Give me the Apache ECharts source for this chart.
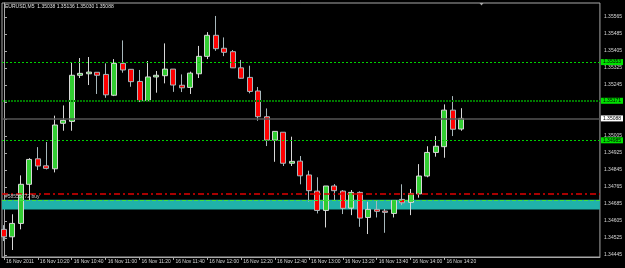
<!DOCTYPE html>
<html>
<head>
<meta charset="utf-8">
<script src="https://cdn.jsdelivr.net/npm/echarts@6/dist/echarts.min.js"></script>
<style>
  html, body { margin: 0; padding: 0; background: #000; }
  #chart { width: 625px; height: 268px; }
</style>
</head>
<body>
<div id="chart"></div>
<script>
// EURUSD M5, 16 Nov 2011, 10:00 - 14:30
const opens = [1.34566, 1.34531, 1.34594, 1.34778, 1.34898, 1.34865, 1.34851, 1.35065, 1.35074, 1.35291,
    1.35298, 1.35305, 1.35295, 1.35197, 1.35347, 1.35319, 1.35262, 1.35171, 1.35283, 1.35289,
    1.35320, 1.35244, 1.35234, 1.35298, 1.35380, 1.35479, 1.35418, 1.35402, 1.35326, 1.35281,
    1.35217, 1.35096, 1.34986, 1.35023, 1.34877, 1.34887, 1.34822, 1.34746, 1.34655, 1.34770,
    1.34746, 1.34666, 1.34740, 1.34622, 1.34660, 1.34652, 1.34641, 1.34707, 1.34693, 1.34733,
    1.34817, 1.34928, 1.34955, 1.35127, 1.35038];
const closes = [1.34531, 1.34594, 1.34778, 1.34895, 1.34864, 1.34853, 1.35057, 1.35079, 1.35291, 1.35300,
    1.35306, 1.35291, 1.35199, 1.35347, 1.35316, 1.35261, 1.35170, 1.35283, 1.35291, 1.35320,
    1.35245, 1.35232, 1.35301, 1.35380, 1.35479, 1.35416, 1.35399, 1.35326, 1.35277, 1.35215,
    1.35096, 1.34986, 1.35027, 1.34877, 1.34886, 1.34818, 1.34748, 1.34655, 1.34770, 1.34748,
    1.34665, 1.34740, 1.34619, 1.34660, 1.34651, 1.34646, 1.34702, 1.34691, 1.34735, 1.34817,
    1.34928, 1.34957, 1.35127, 1.35037, 1.35088];
const lows = [1.34511, 1.34469, 1.34566, 1.34704, 1.34845, 1.34848, 1.34834, 1.35030, 1.35030, 1.35278,
    1.35245, 1.35203, 1.35185, 1.35193, 1.35303, 1.35237, 1.35165, 1.35169, 1.35209, 1.35253,
    1.35213, 1.35212, 1.35203, 1.35278, 1.35367, 1.35406, 1.35381, 1.35325, 1.35275, 1.35206,
    1.35077, 1.34958, 1.34884, 1.34864, 1.34864, 1.34778, 1.34696, 1.34641, 1.34575, 1.34704,
    1.34638, 1.34633, 1.34578, 1.34544, 1.34622, 1.34550, 1.34622, 1.34680, 1.34633, 1.34715,
    1.34811, 1.34908, 1.34903, 1.35005, 1.35030];
const highs = [1.34586, 1.34637, 1.34820, 1.34901, 1.34953, 1.34977, 1.35101, 1.35149, 1.35350, 1.35372,
    1.35377, 1.35305, 1.35347, 1.35367, 1.35455, 1.35319, 1.35316, 1.35358, 1.35311, 1.35441,
    1.35320, 1.35295, 1.35308, 1.35429, 1.35494, 1.35570, 1.35469, 1.35410, 1.35363, 1.35336,
    1.35236, 1.35135, 1.35027, 1.35023, 1.35002, 1.34911, 1.34842, 1.34811, 1.34770, 1.34779,
    1.34751, 1.34751, 1.34745, 1.34696, 1.34704, 1.34662, 1.34702, 1.34778, 1.34756, 1.34873,
    1.34957, 1.35005, 1.35154, 1.35193, 1.35136];

const tickIdx = [0, 4, 8, 12, 16, 20, 24, 28, 32, 36, 40, 44, 48, 52];
const timeLabels = ['16 Nov 2011', '16 Nov 10:20', '16 Nov 10:40', '16 Nov 11:00', '16 Nov 11:20',
    '16 Nov 11:40', '16 Nov 12:00', '16 Nov 12:20', '16 Nov 12:40', '16 Nov 13:00',
    '16 Nov 13:20', '16 Nov 13:40', '16 Nov 14:00', '16 Nov 14:20'];
const priceTicks = [1.34445, 1.34525, 1.34605, 1.34685, 1.34765, 1.34845, 1.34925, 1.35005,
    1.35085, 1.35165, 1.35245, 1.35325, 1.35405, 1.35485, 1.35565];

// horizontal objects on the chart
const levelLines = [1.35353, 1.35171, 1.34985];
const stopLevel = 1.34735;
const orderBand = [1.34659, 1.34705];
const orderText = '#58555772 buy';

const chart = echarts.init(document.getElementById('chart'));

const candleData = opens.map((o, i) => [i, o, closes[i], lows[i], highs[i]]);
const last = opens.length - 1;
const bid = closes[last];
const font = 'Liberation Sans';

const levelLabel = {
    show: true,
    position: 'end',
    distance: 1,
    formatter: p => p.value.toFixed(5),
    fontFamily: font,
    fontSize: 5,
    color: '#000',
    backgroundColor: '#00e000',
    padding: [1, 2, 0, 2]
};

const option = {
    backgroundColor: '#000',
    animation: false,
    grid: {
        left: 2, right: 22, top: 3, bottom: 11,
        show: true,
        borderColor: '#a8a8a8',
        borderWidth: 1
    },
    xAxis: {
        type: 'value',
        min: -0.235,
        max: 70.36,
        splitLine: { show: false },
        axisLine: { show: true, lineStyle: { color: '#a8a8a8' } },
        axisTick: { show: true, customValues: tickIdx, length: 3, lineStyle: { color: '#a8a8a8' } },
        axisLabel: {
            customValues: tickIdx,
            formatter: v => timeLabels[tickIdx.indexOf(Math.round(v))] || '',
            align: 'left',
            padding: [0, 0, 0, 2],
            margin: 2,
            fontFamily: font,
            fontSize: 5,
            color: '#d8d8d8'
        }
    },
    yAxis: {
        type: 'value',
        position: 'right',
        min: 1.34436,
        max: 1.35631,
        splitLine: { show: false },
        axisLine: { show: true, lineStyle: { color: '#a8a8a8' } },
        axisTick: { show: true, customValues: priceTicks, length: 3, lineStyle: { color: '#a8a8a8' } },
        axisLabel: {
            customValues: priceTicks,
            formatter: v => v.toFixed(5),
            margin: 4,
            fontFamily: font,
            fontSize: 5,
            color: '#d8d8d8'
        }
    },
    series: [
        {
            // order band and price levels, drawn under the candles
            type: 'line',
            data: [],
            z: 1,
            silent: true,
            markArea: {
                silent: true,
                itemStyle: { color: '#20b2aa' },
                data: [[{ yAxis: orderBand[0] }, { yAxis: orderBand[1] }]]
            },
            markLine: {
                silent: true,
                symbol: 'none',
                precision: 5,
                data: [
                    { yAxis: levelLines[0], lineStyle: { color: '#00d000', type: [2, 2], width: 1 }, label: levelLabel },
                    { yAxis: levelLines[1], lineStyle: { color: '#007a00', type: [2, 1], width: 2 }, label: levelLabel },
                    { yAxis: levelLines[2], lineStyle: { color: '#00d000', type: [2, 2], width: 1 }, label: levelLabel },
                    {
                        yAxis: bid,
                        lineStyle: { color: '#555', type: 'solid', width: 1.5 },
                        label: Object.assign({}, levelLabel, { backgroundColor: '#fff' })
                    },
                    { yAxis: stopLevel, lineStyle: { color: '#e00000', opacity: 1, type: [6, 3, 2, 3], width: 1.5 }, label: { show: false } },
                    { yAxis: orderBand[1], lineStyle: { color: '#40e040', type: [4, 2], width: 1 }, label: { show: false } }
                ]
            }
        },
        {
            type: 'candlestick',
            data: candleData,
            encode: { x: 0, y: [1, 2, 3, 4] },
            barWidth: 5.5,
            z: 3,
            itemStyle: {
                color: '#32cd32',
                color0: '#ff0000',
                borderColor: '#d8d8d8',
                borderColor0: '#a8b8bc',
                borderWidth: 1
            }
        }
    ],
    graphic: [
        {
            type: 'text',
            left: 5, top: 4,
            z: 10,
            style: {
                text: 'EURUSD,M5  ' + [opens[last], highs[last], lows[last], closes[last]].map(v => v.toFixed(5)).join(' '),
                fill: '#e0e0e0',
                font: '5px "Liberation Sans"'
            }
        },
        {
            type: 'text',
            left: 5, top: 194,
            z: 10,
            style: { text: orderText, fill: '#c8c8c8', font: '5px "Liberation Sans"' }
        },
        {
            type: 'polygon',
            z: 10,
            shape: { points: [[479.5, 3], [483.5, 3], [481.5, 5.5]] },
            style: { fill: '#a8a8a8' }
        }
    ]
};

chart.setOption(option);
</script>
</body>
</html>
